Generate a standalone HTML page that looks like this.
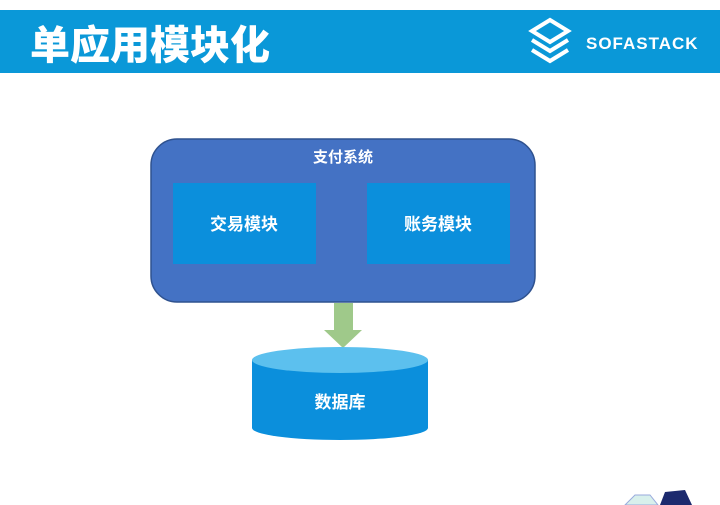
<!DOCTYPE html>
<html><head><meta charset="utf-8"><style>
body{margin:0;width:720px;height:505px;background:#fff;overflow:hidden;font-family:"Liberation Sans","Noto Sans CJK SC",sans-serif}
</style></head><body>
<svg width="720" height="505" xmlns="http://www.w3.org/2000/svg" style="position:absolute;left:0;top:0">
<rect x="0" y="10" width="720" height="63" fill="#0a98d8"/>
<text x="30" y="59" font-size="40" font-weight="900" fill="#fff" font-family="Noto Sans CJK SC,sans-serif">单应用模块化</text>
<g fill="none" stroke="#fff" stroke-width="4">
<path d="M550 20 L568 31 L550 42 L532 31 Z"/>
<path d="M532 40 L550 51 L568 40"/>
<path d="M532 50 L550 61 L568 50"/>
</g>
<text x="586" y="49" font-size="17" font-weight="bold" fill="#fff" letter-spacing="1">SOFASTACK</text>
<rect x="151" y="139" width="384" height="163" rx="26" fill="#4472c4" stroke="#2f528f" stroke-width="1.5"/>
<text x="343" y="162" font-size="15" font-weight="bold" fill="#fff" text-anchor="middle" font-family="Noto Sans CJK SC,sans-serif">支付系统</text>
<rect x="173" y="183" width="143" height="81" fill="#0b8fdc"/>
<rect x="367" y="183" width="143" height="81" fill="#0b8fdc"/>
<text x="244" y="230" font-size="17" font-weight="bold" fill="#fff" text-anchor="middle" font-family="Noto Sans CJK SC,sans-serif">交易模块</text>
<text x="438" y="230" font-size="17" font-weight="bold" fill="#fff" text-anchor="middle" font-family="Noto Sans CJK SC,sans-serif">账务模块</text>
<path d="M334 303 H353 V330 H362 L343 348 L324 330 H334 Z" fill="#9fc98a"/>
<path d="M252 360 V428 A88 12 0 0 0 428 428 V360 Z" fill="#0b8fdc"/>
<ellipse cx="340" cy="360" rx="88" ry="13" fill="#5cc0ee"/>
<text x="340" y="408" font-size="17" font-weight="bold" fill="#fff" text-anchor="middle" font-family="Noto Sans CJK SC,sans-serif">数据库</text>
<path d="M625 505 L635 495 L650 495 L658 505 Z" fill="#d8f0ec" stroke="#9ad" stroke-width="1"/>
<path d="M660 505 L665 492 L685 490 L692 505 Z" fill="#1c2a6e"/>
</svg>
</body></html>
